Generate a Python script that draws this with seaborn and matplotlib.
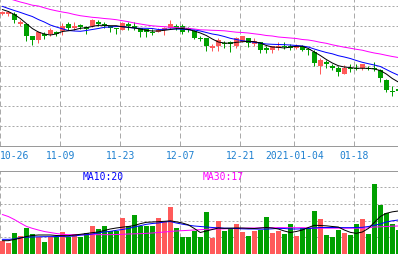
import numpy as np
import pandas as pd
import matplotlib
matplotlib.use("Agg")
import matplotlib.pyplot as plt
import seaborn as sns
from matplotlib.transforms import blended_transform_factory

# ---------------- data ----------------
open_ = [5.92, 5.923, 5.92, 5.823, 5.817, 5.697, 5.663, 5.723, 5.723, 5.737,
         5.75, 5.823, 5.777, 5.807, 5.793, 5.803, 5.837, 5.823, 5.797, 5.783,
         5.763, 5.823, 5.797, 5.777, 5.77, 5.743, 5.743, 5.757, 5.783, 5.797,
         5.797, 5.777, 5.75, 5.683, 5.677, 5.583, 5.603, 5.633, 5.637, 5.603,
         5.643, 5.677, 5.623, 5.637, 5.577, 5.563, 5.583, 5.60, 5.60, 5.583,
         5.603, 5.57, 5.543, 5.403, 5.443, 5.403, 5.377, 5.323, 5.383, 5.383,
         5.377, 5.383, 5.383, 5.357, 5.257, 5.15, 5.167]
close = [5.943, 5.943, 5.863, 5.843, 5.703, 5.66, 5.737, 5.703, 5.76, 5.723,
         5.803, 5.783, 5.803, 5.793, 5.773, 5.863, 5.817, 5.803, 5.783, 5.77,
         5.83, 5.797, 5.783, 5.743, 5.74, 5.733, 5.763, 5.777, 5.823, 5.783,
         5.743, 5.763, 5.683, 5.67, 5.603, 5.60, 5.657, 5.62, 5.623, 5.68,
         5.697, 5.627, 5.65, 5.563, 5.557, 5.597, 5.597, 5.59, 5.583, 5.603,
         5.563, 5.557, 5.427, 5.463, 5.423, 5.383, 5.343, 5.383, 5.37, 5.37,
         5.417, 5.37, 5.37, 5.28, 5.163, 5.137, 5.153]
high = [5.953, 5.947, 5.937, 5.863, 5.823, 5.697, 5.747, 5.743, 5.78, 5.753,
        5.827, 5.843, 5.843, 5.823, 5.803, 5.87, 5.863, 5.843, 5.797, 5.783,
        5.843, 5.843, 5.837, 5.783, 5.77, 5.77, 5.777, 5.79, 5.863, 5.823,
        5.817, 5.79, 5.763, 5.70, 5.677, 5.623, 5.677, 5.65, 5.65, 5.69,
        5.697, 5.683, 5.683, 5.643, 5.603, 5.603, 5.637, 5.637, 5.617, 5.617,
        5.61, 5.583, 5.563, 5.483, 5.463, 5.423, 5.397, 5.41, 5.417, 5.417,
        5.423, 5.403, 5.443, 5.37, 5.27, 5.197, 5.167]
low = [5.91, 5.897, 5.83, 5.797, 5.653, 5.613, 5.633, 5.673, 5.697, 5.697,
       5.713, 5.763, 5.763, 5.77, 5.717, 5.79, 5.803, 5.777, 5.737, 5.717,
       5.763, 5.763, 5.763, 5.693, 5.693, 5.713, 5.737, 5.713, 5.77, 5.763,
       5.723, 5.737, 5.67, 5.65, 5.553, 5.553, 5.553, 5.577, 5.537, 5.577,
       5.637, 5.593, 5.603, 5.533, 5.533, 5.533, 5.563, 5.57, 5.563, 5.57,
       5.55, 5.51, 5.397, 5.317, 5.377, 5.357, 5.297, 5.317, 5.343, 5.357,
       5.357, 5.357, 5.35, 5.237, 5.143, 5.103, 5.153]

ma5 = [5.965, 5.945, 5.915, 5.875, 5.825, 5.775, 5.74, 5.72, 5.71, 5.72,
       5.745, 5.752, 5.762, 5.777, 5.783, 5.795, 5.807, 5.807, 5.803, 5.803,
       5.792, 5.788, 5.78, 5.77, 5.757, 5.75, 5.75, 5.757, 5.765, 5.773,
       5.775, 5.765, 5.75, 5.73, 5.705, 5.67, 5.64, 5.63, 5.627, 5.637,
       5.642, 5.647, 5.643, 5.63, 5.605, 5.59, 5.587, 5.58, 5.59, 5.597,
       5.597, 5.575, 5.54, 5.505, 5.465, 5.43, 5.403, 5.39, 5.384, 5.378,
       5.377, 5.377, 5.37, 5.355, 5.32, 5.275, 5.24]
ma10 = [5.997, 5.975, 5.955, 5.936, 5.915, 5.895, 5.865, 5.84, 5.81, 5.79,
        5.772, 5.755, 5.75, 5.747, 5.755, 5.765, 5.775, 5.787, 5.79, 5.795,
        5.795, 5.785, 5.78, 5.777, 5.777, 5.775, 5.765, 5.767, 5.77, 5.77,
        5.768, 5.763, 5.76, 5.75, 5.735, 5.72, 5.71, 5.695, 5.677, 5.665,
        5.653, 5.645, 5.637, 5.628, 5.62, 5.617, 5.615, 5.613, 5.61, 5.605,
        5.60, 5.59, 5.57, 5.552, 5.535, 5.522, 5.503, 5.49, 5.475, 5.455,
        5.437, 5.423, 5.41, 5.395, 5.365, 5.335, 5.308]
ma30 = [6.096, 6.076, 6.058, 6.04, 6.025, 6.008, 6.00, 5.982, 5.965, 5.952,
        5.94, 5.93, 5.915, 5.903, 5.895, 5.887, 5.882, 5.875, 5.87, 5.863,
        5.853, 5.843, 5.83, 5.82, 5.81, 5.802, 5.797, 5.793, 5.787, 5.783,
        5.78, 5.777, 5.77, 5.762, 5.76, 5.757, 5.755, 5.752, 5.745, 5.738,
        5.735, 5.73, 5.722, 5.715, 5.705, 5.70, 5.69, 5.685, 5.68, 5.675,
        5.665, 5.66, 5.65, 5.637, 5.627, 5.612, 5.60, 5.588, 5.578, 5.567,
        5.558, 5.543, 5.53, 5.52, 5.507, 5.495, 5.485]

volume = [7.8, 6.9, 12.6, 10.7, 15.4, 12.1, 10.4, 7.2, 10.2, 10.2,
          13.2, 10.4, 11.8, 10.5, 12.6, 16.8, 14.9, 16.8, 13.7, 13.8,
          21.5, 16.7, 23.4, 16.7, 16.7, 16.7, 21.6, 19.2, 28.2, 15.6,
          10.4, 10.4, 13.9, 10.3, 25.4, 9.7, 19.9, 13.9, 15.5, 18.1,
          13.3, 10.9, 13.9, 14.7, 22.3, 12.6, 13.9, 12.0, 18.0, 10.9,
          15.6, 15.6, 25.9, 21.0, 11.4, 10.3, 14.5, 12.6, 11.7, 18.0,
          21.0, 12.0, 42.0, 29.4, 24.9, 18.0, 14.4]
vol_ma5 = [8.0, 8.0, 8.7, 9.5, 10.5, 11.1, 11.4, 11.4, 11.4, 11.1,
           11.0, 11.0, 11.4, 11.8, 12.3, 12.8, 13.2, 14.1, 15.0, 15.6,
           16.1, 16.5, 17.1, 18.2, 19.0, 19.2, 19.4, 19.6, 19.9, 19.3,
           18.6, 17.5, 15.3, 12.9, 13.8, 14.7, 15.6, 15.4, 15.5, 15.6,
           15.6, 15.4, 15.3, 15.6, 15.9, 15.6, 15.0, 13.8, 12.9, 13.5,
           14.4, 15.9, 17.2, 17.1, 16.9, 16.5, 16.2, 14.4, 13.0, 12.4,
           13.2, 15.3, 18.9, 22.5, 24.4, 25.3, 25.8]
vol_ma10 = [8.8, 8.8, 9.0, 9.8, 10.1, 10.2, 10.3, 10.4, 10.4, 10.5,
            10.6, 10.6, 10.8, 11.3, 11.6, 12.0, 12.7, 13.2, 13.6, 14.2,
            14.7, 15.3, 16.2, 17.0, 17.8, 18.3, 18.6, 19.2, 19.5, 18.6,
            17.9, 17.3, 16.8, 16.5, 16.2, 15.9, 15.7, 15.5, 15.4, 15.3,
            15.1, 15.0, 15.0, 14.9, 14.9, 15.1, 15.4, 15.3, 15.0, 15.0,
            15.1, 15.3, 15.6, 15.9, 15.9, 15.9, 15.9, 15.8, 15.8, 15.9,
            16.0, 16.5, 17.2, 18.0, 19.2, 19.9, 20.4]
vol_ma30 = [23.7, 22.5, 20.7, 18.6, 16.6, 15.4, 14.4, 13.5, 12.9, 12.3,
            11.8, 11.6, 11.6, 11.6, 11.6, 11.6, 11.6, 11.6, 11.6, 11.7,
            11.8, 12.0, 12.1, 12.2, 12.4, 12.6, 12.9, 13.2, 13.5, 13.8,
            14.0, 14.2, 14.4, 14.6, 14.8, 15.0, 15.0, 15.1, 15.2, 15.3,
            15.4, 15.6, 15.6, 15.7, 15.8, 15.8, 15.8, 15.8, 15.8, 15.8,
            15.8, 15.7, 15.5, 15.5, 15.5, 15.5, 15.5, 15.5, 15.5, 15.5,
            15.5, 15.7, 16.2, 16.3, 16.5, 16.7, 16.8]

date_labels = ["10-26", "11-09", "11-23", "12-07", "12-21", "2021-01-04", "01-18"]
date_index = [0, 10, 20, 30, 40, 49, 59]
price_grid = [4.8, 5.0, 5.2, 5.4, 5.6, 5.8, 6.0]
vol_grid = [10, 20, 30, 40]
legend_texts = ["MA10:20", "MA30:17"]

# ---------------- styling ----------------
sns.set_style("white")
plt.rcParams["font.family"] = ["DejaVu Sans Mono", "DejaVu Sans"]

RED = "#ff5a5a"
GREEN = "#00a000"
GRID = "#aaaaaa"
SPINE = "#9a9a9a"
PX = 0.72  # one pixel in points at dpi 100

W, H = 398, 255
fig = plt.figure(figsize=(W / 100, H / 100), dpi=100)
fig.patch.set_facecolor("white")
ax1 = fig.add_axes([0, (H - 147) / H, 1, 147 / H])
ax2 = fig.add_axes([0, 0, 1, 83 / H])

df = pd.DataFrame({"i": np.arange(len(open_)), "open": open_, "close": close,
                   "high": high, "low": low, "ma5": ma5, "ma10": ma10, "ma30": ma30,
                   "vol": volume, "vma5": vol_ma5, "vma10": vol_ma10, "vma30": vol_ma30})
df["up"] = df["close"] >= df["open"]
df["color"] = np.where(df["up"], RED, GREEN)

XMIN, XMAX = -0.383, 65.95
for ax in (ax1, ax2):
    ax.set_xlim(XMIN, XMAX)
    ax.set_xticks([])
    ax.set_yticks([])
    ax.set_facecolor("white")
    for s in ax.spines.values():
        s.set_visible(False)
    for d in date_index:
        ax.axvline(d - 0.3, color=GRID, lw=PX, ls=(0, (5, 3)), zorder=0)

ax1.set_ylim(4.60, 6.07)
ax2.set_ylim(0, 49.8)
ax1.spines["bottom"].set_visible(True)
ax1.spines["bottom"].set_color(SPINE)
ax1.spines["bottom"].set_linewidth(PX)
ax2.spines["top"].set_visible(True)
ax2.spines["top"].set_color(SPINE)
ax2.spines["top"].set_linewidth(PX)

ax1.hlines(price_grid, XMIN, XMAX, colors=GRID, lw=PX, linestyles=(0, (2, 2)), zorder=0)
ax2.hlines(vol_grid, XMIN, XMAX, colors=GRID, lw=PX, linestyles=(0, (2, 2)), zorder=0)

# candles
body_bottom = np.minimum(df["open"], df["close"])
body_h = np.maximum(np.abs(df["close"] - df["open"]), 0.012)
ax1.vlines(df["i"], df["low"], df["high"], colors=df["color"], lw=PX, zorder=2)
ax1.bar(df["i"], body_h, bottom=body_bottom, width=0.8, color=df["color"],
        linewidth=0, zorder=3)

# price moving averages
LW = 0.72
sns.lineplot(data=df, x="i", y="ma30", ax=ax1, color="#ff00ff", lw=LW, legend=False, zorder=4)
sns.lineplot(data=df, x="i", y="ma10", ax=ax1, color="#0000ff", lw=LW, legend=False, zorder=5)
sns.lineplot(data=df, x="i", y="ma5", ax=ax1, color="#000000", lw=LW, legend=False, zorder=6)

# volume
ax2.bar(df["i"], df["vol"], width=0.8, color=df["color"], linewidth=0, zorder=2)
sns.lineplot(data=df, x="i", y="vma30", ax=ax2, color="#ff00ff", lw=LW, legend=False, zorder=4)
sns.lineplot(data=df, x="i", y="vma10", ax=ax2, color="#0000ff", lw=LW, legend=False, zorder=5)
sns.lineplot(data=df, x="i", y="vma5", ax=ax2, color="#000000", lw=LW, legend=False, zorder=6)

for ax in (ax1, ax2):
    ax.set_xlabel("")
    ax.set_ylabel("")
    ax.set_xlim(XMIN, XMAX)

# date labels in the band between the panels
trans = blended_transform_factory(ax1.transData, fig.transFigure)
for lab, d in zip(date_labels, date_index):
    if d == 0:
        fig.text(XMIN, 1 - 156 / H, lab, transform=trans, ha="left", va="center",
                 color="#1e80d0", fontsize=7)
    else:
        fig.text(d - 0.3, 1 - 156 / H, lab, transform=trans, ha="center", va="center",
                 color="#1e80d0", fontsize=7)

fig.text(83 / W, 1 - 177 / H, legend_texts[0], ha="left", va="center", color="#0000ff", fontsize=7)
fig.text(203 / W, 1 - 177 / H, legend_texts[1], ha="left", va="center", color="#ff00ff", fontsize=7)

fig.savefig("out.png", dpi=100)
